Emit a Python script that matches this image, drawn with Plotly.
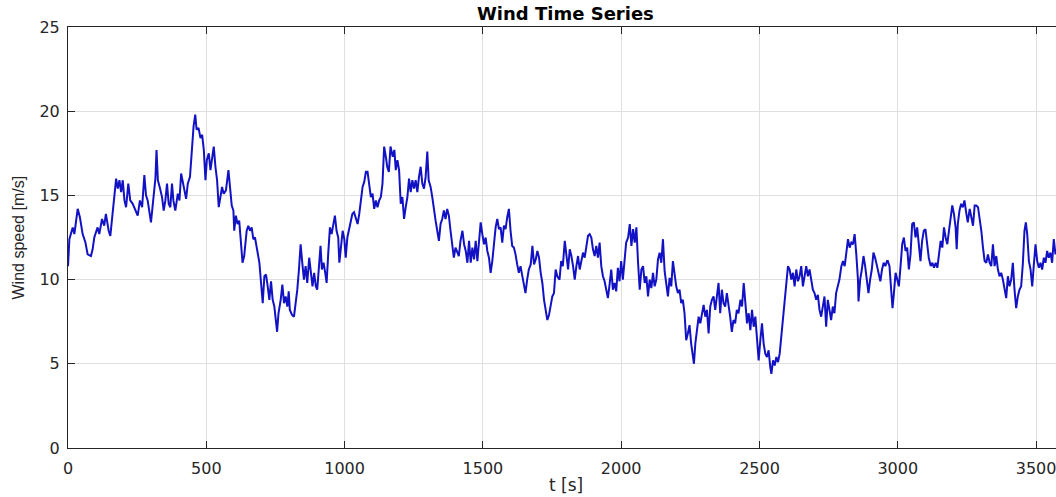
import plotly.graph_objects as go

# ---- data (t in s, wind speed in m/s) ----
t_a = [0, 5, 17, 23, 35, 43, 53, 63, 71, 83, 89, 95, 107, 113, 123, 131, 137, 147, 153, 159,
       168, 174, 180, 186, 192, 198, 204, 210, 218, 225, 234, 246, 252, 260, 268, 276, 282, 288, 296, 300,
       308, 316, 320, 325, 333, 340, 346, 352, 358, 364, 370, 376, 381, 388, 397, 403, 409, 415, 421, 427,
       433, 441, 448, 454, 460, 465, 472, 479, 485, 491, 497, 502, 509, 515, 521, 527, 533, 539, 545, 551,
       557, 563, 571, 580, 589]
v_a = [10.8, 12.4, 13.1, 12.7, 14.2, 13.7, 12.7, 12.2, 11.5, 11.4, 11.8, 12.5, 13.1, 12.7, 13.6, 13.2, 13.9, 12.9, 12.6, 13.5,
       14.9, 16.0, 15.4, 15.9, 15.2, 15.9, 14.7, 14.3, 15.7, 14.7, 14.5, 14.1, 13.8, 14.7, 14.3, 16.2, 15.0, 14.7, 13.9, 13.4,
       14.7, 16.0, 17.7, 15.9, 15.4, 14.9, 14.1, 14.7, 15.7, 14.5, 14.3, 15.7, 14.7, 14.1, 15.1, 14.7, 16.3, 15.7, 15.3, 14.8,
       15.7, 16.1, 17.7, 19.1, 19.8, 18.9, 19.0, 18.4, 18.6, 17.7, 15.9, 17.1, 17.5, 16.5, 17.2, 17.9, 16.7, 15.9, 14.3, 14.9,
       15.5, 15.1, 15.3, 16.5, 14.7]

t_b = [592, 598, 601, 607, 613, 619, 625, 631, 637, 646, 652, 658, 664, 670, 676, 684, 692, 698, 704, 710,
       716, 722, 728, 734, 740, 746, 752, 756, 761, 769, 775, 781, 787, 793, 798, 802, 810, 817, 823, 829,
       835, 841, 847, 853, 859, 865, 872, 878, 884, 890, 896, 901, 909, 913, 918, 924, 930, 935, 941, 947,
       953, 959, 965, 971, 977, 981, 987, 993, 999, 1004, 1010, 1016, 1022, 1028, 1034, 1040, 1047, 1053, 1059, 1065,
       1071, 1077, 1083, 1089, 1095, 1101, 1107, 1113, 1119, 1125, 1131, 1137, 1143, 1150, 1154, 1160, 1166, 1174, 1180, 1185]
v_b = [14.4, 14.1, 12.9, 13.8, 13.3, 13.5, 12.2, 11.0, 11.4, 12.9, 13.2, 12.9, 13.1, 12.4, 12.5, 11.6, 11.0, 9.8, 8.6, 10.2,
       10.3, 9.6, 8.8, 9.9, 8.8, 8.4, 7.6, 6.9, 8.0, 8.8, 9.7, 8.6, 9.0, 8.4, 9.3, 8.2, 7.9, 7.8, 8.6, 9.4,
       10.6, 12.1, 11.0, 10.0, 10.8, 9.8, 11.3, 10.6, 9.6, 10.4, 9.6, 9.4, 11.0, 12.0, 10.6, 11.0, 10.4, 9.8, 11.6, 13.1,
       12.7, 13.3, 13.8, 12.9, 12.5, 11.0, 12.2, 12.9, 12.4, 11.3, 12.5, 13.0, 13.4, 13.9, 14.0, 13.7, 13.3, 13.9, 14.8, 15.5,
       15.8, 16.4, 16.4, 15.5, 14.9, 15.1, 14.2, 14.7, 14.3, 14.7, 14.9, 15.7, 17.9, 17.2, 16.7, 16.4, 17.9, 17.3, 17.7, 16.5]

t_c = [1191, 1197, 1203, 1209, 1215, 1221, 1227, 1233, 1239, 1245, 1251, 1257, 1263, 1269, 1275, 1281, 1287, 1293, 1299, 1304,
       1311, 1317, 1323, 1329, 1335, 1341, 1347, 1353, 1359, 1365, 1371, 1377, 1383, 1389, 1395, 1401, 1407, 1413, 1419, 1426,
       1432, 1438, 1444, 1450, 1456, 1462, 1468, 1474, 1480, 1486, 1492, 1498, 1504, 1510, 1516, 1522, 1528, 1534, 1540, 1546,
       1552, 1558, 1564, 1570, 1576, 1582, 1588, 1594, 1600, 1606, 1612, 1618, 1624, 1630, 1636, 1642, 1648, 1654, 1660, 1666,
       1673, 1679, 1685, 1691, 1697, 1703, 1709, 1715, 1721, 1727, 1733, 1739, 1745, 1751, 1757, 1763, 1769]
v_c = [17.1, 16.5, 14.5, 14.9, 13.6, 14.3, 14.9, 16.0, 15.2, 15.9, 15.4, 15.9, 15.2, 16.1, 16.7, 15.7, 15.4, 16.1, 17.6, 15.9,
       15.5, 14.9, 14.1, 13.5, 12.9, 12.3, 13.3, 13.6, 14.1, 13.6, 14.2, 13.8, 12.9, 12.1, 11.3, 11.9, 11.7, 11.4, 12.3, 12.9,
       12.1, 11.7, 11.0, 12.3, 11.0, 11.9, 11.2, 12.3, 11.1, 12.1, 13.4, 12.7, 12.1, 12.5, 11.7, 11.3, 10.4, 11.1, 12.1, 13.1,
       13.6, 13.0, 13.1, 12.2, 13.2, 13.0, 13.7, 14.2, 12.9, 12.0, 11.9, 11.5, 10.9, 10.4, 10.8, 10.2, 9.8, 9.2, 10.0, 10.6,
       10.9, 12.0, 10.9, 11.2, 11.7, 11.3, 10.4, 9.8, 8.8, 8.2, 7.6, 7.9, 8.6, 9.0, 9.2, 10.6, 10.2]

t_d = [1777, 1783, 1789, 1796, 1802, 1808, 1814, 1820, 1826, 1832, 1838, 1844, 1850, 1856, 1862, 1868, 1874, 1880, 1886, 1892,
       1898, 1904, 1910, 1916, 1922, 1928, 1934, 1940, 1946, 1952, 1958, 1964, 1970, 1976, 1982, 1988, 1994, 2000, 2006, 2012,
       2018, 2025, 2031, 2037, 2043, 2049, 2055, 2061, 2067, 2073, 2079, 2085, 2091, 2097, 2103, 2109, 2115, 2121, 2127, 2133,
       2139, 2145, 2151, 2157, 2163, 2169, 2175, 2181, 2187, 2193, 2199, 2205, 2211, 2217, 2223, 2229, 2235, 2241, 2247, 2253,
       2260, 2263, 2268, 2274, 2280, 2286, 2292, 2298, 2304, 2310, 2316, 2322, 2328, 2334, 2340, 2346, 2352, 2358, 2364, 2370]
v_d = [10.0, 11.1, 10.8, 12.3, 11.4, 10.6, 11.8, 11.4, 10.8, 10.0, 10.8, 11.4, 10.6, 11.2, 11.6, 11.3, 12.0, 12.6, 12.7, 12.5,
       11.8, 11.4, 12.0, 11.3, 12.2, 10.8, 10.2, 9.9, 9.4, 8.9, 9.7, 10.6, 9.4, 9.8, 9.3, 10.7, 9.9, 11.1, 10.0, 11.2,
       12.2, 12.5, 13.3, 12.0, 13.0, 12.2, 13.1, 11.0, 9.4, 10.6, 10.8, 9.8, 10.2, 9.0, 10.0, 9.5, 10.4, 9.6, 10.0, 11.2,
       11.6, 11.0, 12.4, 10.5, 9.8, 9.0, 10.1, 9.6, 11.1, 10.2, 9.6, 9.2, 9.4, 8.6, 8.8, 8.0, 6.4, 6.8, 7.3, 6.2,
       5.4, 5.0, 6.2, 7.2, 7.8, 7.4, 8.0, 8.5, 7.8, 8.2, 6.8, 8.4, 8.8, 9.0, 8.2, 8.9, 9.8, 8.0, 9.4, 8.6]

t_e = [2376, 2382, 2388, 2394, 2400, 2406, 2412, 2418, 2424, 2431, 2437, 2443, 2449, 2455, 2461, 2467, 2473, 2479, 2485, 2491,
       2497, 2503, 2509, 2515, 2521, 2527, 2533, 2539, 2543, 2549, 2555, 2561, 2567, 2573, 2579, 2585, 2591, 2597, 2603, 2609,
       2615, 2621, 2627, 2633, 2639, 2645, 2651, 2657, 2663, 2669, 2675, 2681, 2687, 2693, 2699, 2705, 2711, 2717, 2723, 2729,
       2735, 2741, 2747, 2753, 2759, 2765, 2771, 2777, 2783, 2789, 2796, 2802, 2808, 2814, 2820, 2826, 2832, 2838, 2844, 2850,
       2856, 2858, 2864, 2870, 2876, 2882, 2888, 2894, 2900, 2906, 2912, 2918, 2925, 2931, 2937, 2943, 2949, 2955, 2961]
v_e = [8.4, 9.2, 8.6, 7.8, 6.9, 7.6, 7.4, 8.2, 8.0, 8.8, 8.4, 9.8, 8.6, 7.4, 8.0, 7.0, 8.2, 7.2, 7.8, 6.6,
       5.2, 6.4, 7.4, 6.2, 5.6, 5.4, 5.8, 4.8, 4.4, 5.2, 4.9, 5.4, 5.1, 5.6, 6.6, 7.8, 8.8, 10.0, 10.8, 10.6,
       10.0, 10.4, 9.6, 10.6, 9.9, 10.2, 10.8, 9.6, 10.2, 10.8, 10.2, 10.6, 10.0, 9.4, 9.2, 8.8, 9.1, 8.2, 7.8, 8.4,
       9.0, 7.2, 8.8, 8.2, 7.6, 8.4, 8.0, 9.2, 9.6, 10.0, 10.8, 11.1, 10.8, 11.5, 12.4, 11.9, 12.2, 12.1, 12.7, 11.5,
       10.0, 8.7, 10.0, 10.6, 11.4, 10.8, 10.0, 9.2, 10.0, 10.6, 11.6, 11.3, 10.8, 10.3, 9.9, 10.6, 11.0, 10.8, 11.1]

t_f = [2964, 2970, 2976, 2981, 2986, 2992, 2998, 3004, 3010, 3016, 3022, 3028, 3034, 3040, 3046, 3052, 3058, 3064, 3070, 3076,
       3082, 3088, 3094, 3100, 3106, 3112, 3119, 3125, 3131, 3137, 3143, 3149, 3155, 3161, 3167, 3173, 3179, 3185, 3191, 3197,
       3203, 3209, 3213, 3217, 3223, 3229, 3235, 3241, 3248, 3253, 3260, 3266, 3272, 3278, 3284, 3290, 3296, 3302, 3308, 3314,
       3320, 3326, 3332, 3338, 3344, 3350, 3356, 3362, 3368, 3374, 3380, 3386, 3392, 3398, 3404, 3410, 3416, 3422, 3428, 3434,
       3440, 3446, 3452, 3458, 3463, 3468, 3474, 3480, 3486, 3492, 3498, 3504, 3510, 3516, 3522, 3528, 3534, 3540, 3546, 3552,
       3558, 3564, 3570, 3575]
v_f = [11.1, 10.8, 9.4, 8.3, 9.2, 10.4, 10.0, 9.6, 10.8, 12.1, 12.5, 11.7, 11.9, 10.6, 11.5, 13.3, 13.4, 12.5, 13.1, 11.9,
       11.1, 12.3, 12.9, 13.0, 12.1, 11.3, 10.8, 11.0, 10.7, 11.0, 10.7, 11.7, 12.3, 11.9, 13.1, 12.5, 12.1, 12.9, 13.7, 14.4,
       13.9, 13.1, 11.8, 13.3, 14.1, 14.5, 14.3, 14.7, 13.9, 13.4, 14.2, 13.7, 13.2, 14.4, 14.4, 14.3, 13.7, 12.9, 11.9, 11.1,
       11.0, 11.5, 11.0, 10.8, 12.1, 10.8, 11.4, 10.6, 10.2, 10.4, 10.0, 9.4, 8.9, 10.2, 9.6, 10.0, 11.0, 9.4, 8.3, 9.0,
       9.4, 9.6, 10.9, 12.9, 13.4, 12.7, 11.1, 10.6, 9.6, 10.9, 12.1, 11.1, 10.7, 11.0, 10.6, 11.3, 11.0, 11.7, 11.3, 11.6,
       11.0, 12.4, 11.5, 11.8]

x_ticks = [0, 500, 1000, 1500, 2000, 2500, 3000, 3500]
y_ticks = [0, 5, 10, 15, 20, 25]

time_s = t_a + t_b + t_c + t_d + t_e + t_f
wind_speed = v_a + v_b + v_c + v_d + v_e + v_f

AX = '#262626'
GRID = '#DFDFDF'
TICKFONT = dict(family='DejaVu Sans', size=16, color=AX)

fig = go.Figure()
fig.add_trace(go.Scatter(x=time_s, y=wind_speed, mode='lines',
                         line=dict(color='#1212C4', width=2), showlegend=False))

fig.update_layout(
    width=1056, height=497,
    margin=dict(l=68, r=0, t=27, b=49),
    paper_bgcolor='white', plot_bgcolor='white',
    xaxis=dict(range=[0, 3572], tickvals=x_ticks, ticktext=[str(v) for v in x_ticks],
               showgrid=True, gridcolor=GRID, gridwidth=1, zeroline=False,
               showline=True, linecolor=AX, linewidth=1, mirror='ticks',
               ticks='inside', ticklen=7, tickcolor=AX, tickwidth=1,
               tickfont=TICKFONT, ticklabelstandoff=6, ticklabeloverflow='allow'),
    yaxis=dict(range=[0, 25], tickvals=y_ticks, ticktext=[str(v) for v in y_ticks],
               showgrid=True, gridcolor=GRID, gridwidth=1, zeroline=False,
               showline=True, linecolor=AX, linewidth=1,
               ticks='inside', ticklen=7, tickcolor=AX, tickwidth=1,
               tickfont=TICKFONT, ticklabelstandoff=4),
    annotations=[
        dict(text='<b>Wind Time Series</b>', xref='x', x=1800, yref='paper', y=1.032,
             xanchor='center', yanchor='middle', showarrow=False,
             font=dict(family='DejaVu Sans', size=18, color='black')),
        dict(text='t [s]', xref='x', x=1800, yref='paper', y=-0.088,
             xanchor='center', yanchor='middle', showarrow=False,
             font=dict(family='DejaVu Sans', size=17, color=AX)),
        dict(text='Wind speed [m/s]', textangle=-90, xref='paper', x=-0.0496,
             yref='paper', y=0.5, xanchor='center', yanchor='middle', showarrow=False,
             font=dict(family='Liberation Sans', size=16, color=AX)),
    ],
)

fig.write_html('out.html')
